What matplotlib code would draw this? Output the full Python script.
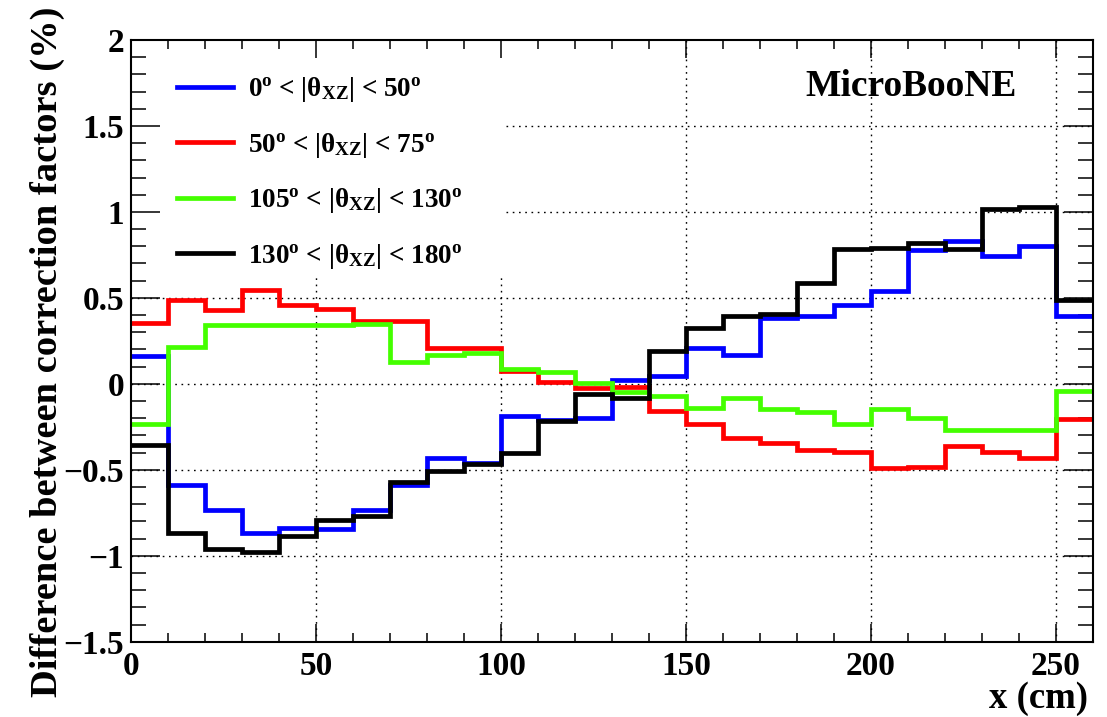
import numpy as np
import matplotlib
matplotlib.use("Agg")
import matplotlib.pyplot as plt
from matplotlib.patches import Rectangle
from matplotlib.ticker import MultipleLocator

# Bin edges along the drift coordinate (cm)
edges = np.arange(0, 261, 10)

series_labels = [
    "0$^{o}$ < |θ$_{XZ}$| < 50$^{o}$",
    "50$^{o}$ < |θ$_{XZ}$| < 75$^{o}$",
    "105$^{o}$ < |θ$_{XZ}$| < 130$^{o}$",
    "130$^{o}$ < |θ$_{XZ}$| < 180$^{o}$",
]
series_colors = ["#0000ff", "#ff0000", "#44ff00", "#000000"]

theta_0_50 = [0.16, -0.59, -0.735, -0.87, -0.836, -0.846, -0.735, -0.59, -0.43, -0.46,
              -0.19, -0.21, -0.20, 0.02, 0.044, 0.21, 0.166, 0.383, 0.392, 0.46,
              0.54, 0.779, 0.828, 0.746, 0.803, 0.392]
theta_50_75 = [0.353, 0.49, 0.43, 0.547, 0.46, 0.435, 0.367, 0.367, 0.21, 0.207,
               0.073, 0.009, -0.022, -0.02, -0.159, -0.232, -0.314, -0.347, -0.387, -0.395,
               -0.49, -0.482, -0.362, -0.395, -0.43, -0.207]
theta_105_130 = [-0.236, 0.212, 0.344, 0.34, 0.34, 0.345, 0.35, 0.125, 0.17, 0.18,
                 0.086, 0.067, 0.005, -0.047, -0.068, -0.14, -0.082, -0.149, -0.165, -0.232,
                 -0.145, -0.2, -0.269, -0.269, -0.269, -0.043]
theta_130_180 = [-0.358, -0.87, -0.962, -0.976, -0.885, -0.794, -0.77, -0.571, -0.507, -0.468,
                 -0.405, -0.217, -0.058, -0.08, 0.19, 0.324, 0.392, 0.408, 0.586, 0.786,
                 0.789, 0.818, 0.783, 1.015, 1.027, 0.485]

x_major = [0, 50, 100, 150, 200, 250]
y_major = [-1.5, -1, -0.5, 0, 0.5, 1, 1.5, 2]
y_ticklabels = ["\u22121.5", "\u22121", "\u22120.5", "0", "0.5", "1", "1.5", "2"]

plt.rcParams["font.family"] = ["Liberation Serif", "DejaVu Serif"]
plt.rcParams["font.weight"] = "bold"
plt.rcParams["mathtext.fontset"] = "custom"
plt.rcParams["mathtext.rm"] = "Liberation Serif:bold"
plt.rcParams["mathtext.it"] = "Liberation Serif:bold"
plt.rcParams["mathtext.bf"] = "Liberation Serif:bold"

W, H = 1107, 717
fig = plt.figure(figsize=(W / 100, H / 100), dpi=100)
L, R, T, B = 131, 1093, 40, 641.7
ax = fig.add_axes([L / W, 1 - B / H, (R - L) / W, (B - T) / H])

ax.set_xlim(0, 260)
ax.set_ylim(-1.5, 2)

# dotted grid at the major ticks
grid_style = dict(color="black", lw=1.0, linestyle=(0, (1.2, 3.3)), zorder=0.5)
for v in x_major[1:]:
    ax.axvline(v, **grid_style)
for v in y_major[1:-1]:
    ax.axhline(v, **grid_style)

# white backing behind the legend
ax.add_patch(Rectangle((0, 0.606), 0.387, 0.394, transform=ax.transAxes,
                       facecolor="white", edgecolor="none", zorder=0.8))

all_series = [theta_0_50, theta_50_75, theta_105_130, theta_130_180]
handles = []
for vals, col, lab in zip(all_series, series_colors, series_labels):
    h = ax.stairs(vals, edges, baseline=None, color=col, lw=3.4, label=lab, zorder=2)
    handles.append(h)

ax.set_xticks(x_major)
ax.set_yticks(y_major)
ax.set_yticklabels(y_ticklabels)
ax.xaxis.set_minor_locator(MultipleLocator(10))
ax.yaxis.set_minor_locator(MultipleLocator(0.1))
ax.tick_params(which="both", direction="in", top=True, right=True, width=1.1,
               labelsize=24)
ax.tick_params(axis="x", which="major", length=13, pad=7)
ax.tick_params(axis="x", which="minor", length=6.5)
ax.tick_params(axis="y", which="major", length=21, pad=5)
ax.tick_params(axis="y", which="minor", length=10.5)
for s in ax.spines.values():
    s.set_linewidth(1.5)

leg = ax.legend(handles=handles, loc="upper left",
                bbox_to_anchor=((177 - L) / (R - L), (B - 75) / (B - T)),
                frameon=False, borderpad=0, borderaxespad=0, fontsize=19.5,
                handlelength=2.07, handletextpad=0.55, labelspacing=0.98)

ax.text((805 - L) / (R - L), (B - 96) / (B - T), "MicroBooNE", transform=ax.transAxes,
        fontsize=27, fontweight="bold", ha="left", va="baseline")

fig.text(47 / W, 1 - 352 / H, "Difference between correction factors (%)",
         rotation=90, ha="center", va="center", fontsize=27.7, fontweight="bold")
fig.text(1088 / W, 1 - 698 / H, "x (cm)", ha="right", va="center",
         fontsize=26.5, fontweight="bold")

fig.savefig("out.png", dpi=100)
